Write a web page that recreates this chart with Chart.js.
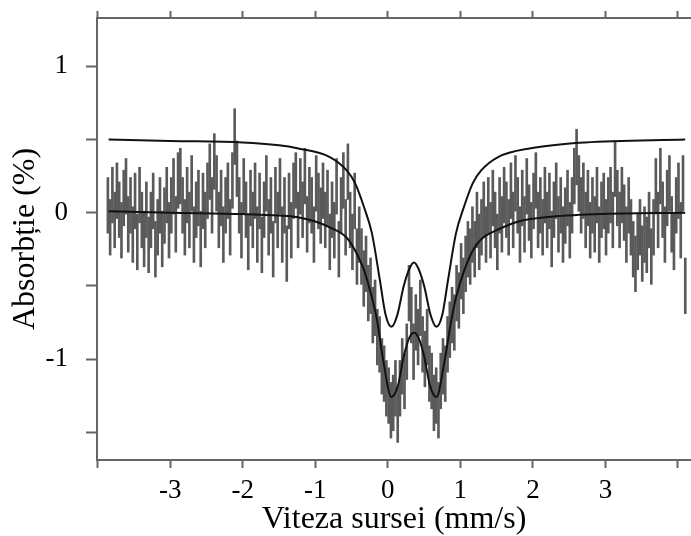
<!DOCTYPE html>
<html>
<head>
<meta charset="utf-8">
<script src="https://cdn.jsdelivr.net/npm/chart.js@4.4.1/dist/chart.umd.min.js"></script>
<style>
  html, body { margin: 0; padding: 0; background: #fff; }
  canvas { display: block; }
</style>
</head>
<body>
<canvas id="spectrumChart" width="691" height="536"></canvas>
<script>
// canale: viteza de start si pasul (mm/s)
const velStart = -3.86;
const velStep = 0.03122;
const errHalf = 0.19;

// absorbtia masurata (%), 256 de canale
const absData = [
	0.05, -0.10, 0.12, -0.05, 0.15, 0.02, -0.12, 0.10, 0.18, -0.08, 0.05, -0.15, 0.08, -0.20, 0.12, -0.05,
	-0.18, 0.02, -0.22, -0.05, 0.08, -0.25, -0.10, 0.05, -0.18, -0.02, 0.12, -0.12, 0.05, 0.18, -0.08, 0.22,
	0.25, 0.05, -0.10, 0.12, -0.05, 0.20, -0.15, 0.02, 0.10, -0.18, 0.08, -0.05, 0.15, 0.28, 0.05, 0.35,
	0.20, -0.05, 0.10, -0.15, 0.05, 0.15, -0.10, 0.22, 0.52, 0.30, 0.05, -0.12, 0.18, 0.02, -0.20, 0.10,
	-0.05, 0.15, -0.15, 0.08, -0.22, 0.02, 0.20, -0.10, 0.05, -0.25, 0.12, -0.05, 0.18, -0.15, 0.05, -0.28,
	0.08, -0.12, 0.15, 0.22, -0.05, 0.18, 0.02, 0.25, -0.08, 0.12, 0.05, -0.15, 0.20, 0.08, -0.02, 0.15,
	-0.05, 0.10, -0.20, 0.02, -0.12, 0.18, -0.25, 0.05, 0.22, -0.10, 0.28, -0.05, -0.20, 0.08, -0.30, -0.15,
	-0.30, -0.45, -0.35, -0.55, -0.50, -0.70, -0.65, -0.85, -0.90, -1.05, -1.10, -1.20, -1.25, -1.35, -1.30, -1.20,
	-1.38, -1.20, -1.05, -1.15, -0.95, -0.55, -0.70, -0.95, -0.75, -0.85, -0.65, -0.90, -1.00, -0.85, -1.10, -1.15,
	-1.30, -1.25, -1.35, -1.15, -1.05, -1.10, -0.90, -0.80, -0.70, -0.75, -0.55, -0.60, -0.40, -0.50, -0.35, -0.25,
	-0.30, -0.15, -0.25, -0.05, -0.20, -0.10, 0.02, -0.15, 0.05, -0.12, 0.10, -0.05, -0.20, 0.05, -0.08, 0.12,
	0.02, -0.10, 0.15, -0.05, 0.20, 0.05, -0.15, 0.10, -0.08, 0.18, 0.00, -0.12, 0.08, 0.22, -0.05, 0.05,
	-0.10, 0.12, -0.05, 0.08, -0.18, 0.02, 0.15, -0.08, 0.05, -0.15, -0.02, 0.10, -0.12, 0.05, 0.25, 0.38,
	0.20, 0.05, 0.15, -0.05, 0.10, -0.12, 0.05, -0.08, 0.12, -0.15, 0.02, 0.08, -0.10, 0.05, 0.12, -0.05,
	0.30, 0.10, -0.05, 0.12, 0.00, -0.15, 0.05, -0.10, -0.25, -0.35, -0.20, -0.10, -0.28, -0.15, -0.22, -0.05,
	-0.30, -0.10, 0.18, -0.05, 0.25, 0.02, -0.15, 0.10, 0.20, -0.08, -0.20, 0.05, 0.15, -0.12, 0.20, -0.50
];

// curba de sus (subspectru, deplasat cu +0.5)
const upperX = [-3.85, -3.0, -2.0, -1.5, -1.25, -0.80, -0.57, -0.45, -0.33, -0.22, -0.11, -0.03, 0.05, 0.13, 0.22, 0.30,
	0.36, 0.42, 0.50, 0.59, 0.67, 0.75, 0.83, 0.94, 1.05, 1.17, 1.29, 1.52, 1.97, 2.72, 4.10];
const upperY = [0.50, 0.49, 0.48, 0.46, 0.44, 0.38, 0.29, 0.20, 0.04, -0.14, -0.46, -0.70, -0.78, -0.70, -0.50, -0.38,
	-0.34, -0.38, -0.50, -0.70, -0.78, -0.70, -0.46, -0.14, 0.04, 0.20, 0.29, 0.38, 0.44, 0.48, 0.50];

// curba de fit totala
const fitX = [-3.85, -3.0, -2.0, -1.5, -1.26, -1.0, -0.8, -0.57, -0.45, -0.33, -0.22, -0.15, -0.06, 0.05, 0.14, 0.22, 0.30,
	0.36, 0.42, 0.50, 0.58, 0.67, 0.78, 0.87, 0.94, 1.05, 1.17, 1.29, 1.5, 1.8, 2.2, 2.9, 4.10];
const fitY = [0.01, 0.0, -0.01, -0.02, -0.03, -0.06, -0.10, -0.17, -0.26, -0.39, -0.58, -0.73, -1.02, -1.26, -1.18, -0.98, -0.85,
	-0.82, -0.85, -0.98, -1.18, -1.26, -1.02, -0.75, -0.58, -0.40, -0.26, -0.18, -0.12, -0.06, -0.03, -0.01, 0.0];

const xTicksShown = [-3, -2, -1, 0, 1, 2, 3];
const yTicksShown = [-1, 0, 1];

const serif = "'Liberation Serif', 'Times New Roman', serif";
const axisGray = '#666666';

// construim punctele pentru Chart.js
var errPoints = [];
for (let i = 0; i < absData.length; i++) {
	errPoints.push({ x: velStart + i * velStep, y: [absData[i] - errHalf, absData[i] + errHalf] });
}
var upperPoints = upperX.map((v, i) => ({ x: v, y: upperY[i] }));
var fitPoints = fitX.map((v, i) => ({ x: v, y: fitY[i] }));

// fara spatiu suplimentar pentru etichetele de la capete
function noEdgePadding(s) {
	s.paddingTop = 0;
	s.paddingBottom = 0;
	s.paddingLeft = 0;
	s.paddingRight = 0;
}

var ctx = document.getElementById('spectrumChart').getContext('2d');
window.spectrumChart = new Chart(ctx, {
	type: 'scatter',
	data: {
		datasets: [
			{
				type: 'line',
				data: upperPoints,
				borderColor: '#111',
				borderWidth: 2,
				pointRadius: 0,
				cubicInterpolationMode: 'monotone',
				order: 0
			},
			{
				type: 'line',
				data: fitPoints,
				borderColor: '#111',
				borderWidth: 2,
				pointRadius: 0,
				cubicInterpolationMode: 'monotone',
				order: 1
			},
			{
				type: 'bar',
				data: errPoints,
				backgroundColor: '#5a5a5a',
				borderWidth: 0,
				barThickness: 2,
				grouped: false,
				order: 2
			}
		]
	},
	options: {
		responsive: false,
		animation: false,
		layout: { padding: 0 },
		plugins: {
			legend: { display: false },
			tooltip: { enabled: false }
		},
		scales: {
			x: {
				type: 'linear',
				position: 'bottom',
				min: -4.01,
				max: 4.18,
				offset: false,
				grid: { drawOnChartArea: false, offset: false, tickLength: 8, tickWidth: 2, tickColor: axisGray },
				border: { color: axisGray, width: 2 },
				ticks: {
					stepSize: 1,
					includeBounds: false,
					autoSkip: false,
					maxRotation: 0,
					padding: 7,
					color: '#000',
					font: { family: serif, size: 27 },
					callback: v => xTicksShown.includes(v) ? String(v) : ''
				},
				title: {
					display: true,
					text: 'Viteza sursei (mm/s)',
					color: '#000',
					font: { family: serif, size: 32, lineHeight: 1.0 },
					padding: { top: 0, bottom: 0 }
				},
				afterFit: s => { noEdgePadding(s); s.height = 76; }
			},
			x2: {
				type: 'linear',
				position: 'top',
				min: -4.01,
				max: 4.18,
				offset: false,
				grid: { drawOnChartArea: false, offset: false, tickLength: 7, tickWidth: 2, tickColor: axisGray },
				border: { color: axisGray, width: 2 },
				ticks: {
					stepSize: 1,
					includeBounds: false,
					autoSkip: false,
					callback: () => ''
				},
				afterFit: s => { noEdgePadding(s); s.height = 18; }
			},
			y: {
				type: 'linear',
				position: 'left',
				min: -1.69,
				max: 1.33,
				grid: { drawOnChartArea: false, tickLength: 11, tickWidth: 2, tickColor: axisGray },
				border: { color: axisGray, width: 2 },
				ticks: {
					stepSize: 0.5,
					includeBounds: false,
					autoSkip: false,
					padding: 18,
					color: '#000',
					font: { family: serif, size: 27 },
					callback: v => yTicksShown.includes(v) ? String(v) : ''
				},
				title: {
					display: true,
					text: 'Absorbție (%)',
					color: '#000',
					font: { family: serif, size: 32, lineHeight: 1.0 },
					padding: { top: 10, bottom: 0 }
				},
				afterFit: s => { noEdgePadding(s); s.width = 97; }
			}
		}
	}
});
</script>
</body>
</html>
